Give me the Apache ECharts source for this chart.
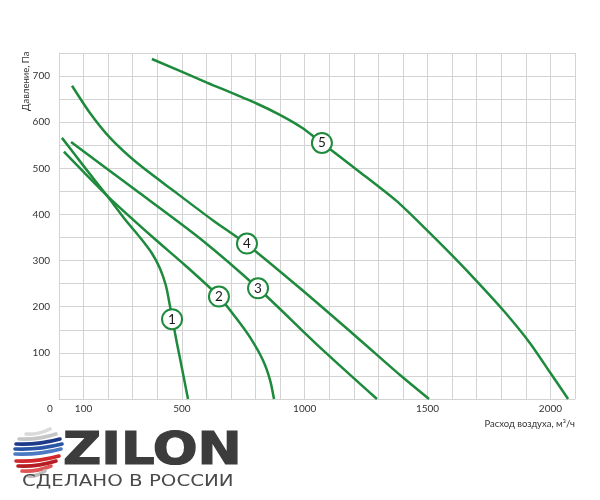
<!DOCTYPE html>
<html><head><meta charset="utf-8">
<script src="https://cdn.jsdelivr.net/npm/echarts@6/dist/echarts.min.js"></script>
<style>html,body{margin:0;padding:0;background:#fff}#c{width:600px;height:500px}</style>
</head><body><div id="c"></div>
<script>
// ---- data ----
const curveNames = ['1', '2', '3', '4', '5'];
const curve1 = [[12,566],[106,501],[195,441],[269,389],[330,350],[378,316],[411,283],[435,246],[448,212],[460,177],[480,121],[501,65],[525,0]];
const curve2 = [[20,536],[195,441],[383,350],[513,290],[651,222],[720,176],[777,134],[830,84],[859,41],[875,0]];
const curve3 = [[49,557],[309,454],[574,348],[810,240],[1062,112],[1294,0]];
const curve4 = [[53,679],[126,620],[208,566],[317,512],[472,449],[627,387],[765,335],[981,240],[1225,128],[1388,52],[1506,0]];
const curve5 = [[378,737],[602,686],[806,640],[899,616],[989,588],[1070,555],[1217,495],[1372,430],[1490,370],[1604,309],[1713,248],[1815,188],[1917,121],[1998,58],[2072,0]];
const markerPos = [[460,173],[651,222],[810,240],[765,337],[1070,555]];
const xLabelValues = [0, 100, 500, 1000, 1500, 2000];
const yLabelValues = [100, 200, 300, 400, 500, 600, 700];
const xAxisName = 'Расход воздуха, м³/ч';
const yAxisName = 'Давление, Па';
const brandName = 'ZILON';
const brandSlogan = 'СДЕЛАНО В РОССИИ';

const curves = [curve1, curve2, curve3, curve4, curve5];
const GREEN = '#1e8a3c';
const GRIDC = '#d3d3d3';

const series = curves.map((c, i) => ({
  type: 'line',
  name: curveNames[i],
  data: c,
  symbol: 'none',
  smooth: 0.25,
  lineStyle: { color: GREEN, width: 2.5 },
  z: 2,
  markPoint: {
    symbol: 'circle',
    symbolSize: 20,
    itemStyle: { color: '#fff', borderColor: GREEN, borderWidth: 2 },
    label: { show: true, formatter: curveNames[i], color: '#1a1a1a', fontSize: 13.5, fontFamily: 'Lato' },
    data: [{ coord: markerPos[i] }],
    z: 5
  }
}));

// globe bands for the logo
const bands = [
  [432, '#dadada', 26, 50], [437, '#c6c6c6', 19, 56],
  [442, '#1d3a8a', 16, 60], [447, '#2a55a6', 15, 62], [452, '#4b79c3', 15, 61],
  [459, '#d2282b', 16, 59], [464, '#b51d22', 18, 56], [469, '#df5555', 22, 51],
  [474, '#bdbdbd', 28, 45]
];
const globe = bands.map(b => ({
  type: 'bezierCurve',
  shape: { x1: b[2], y1: b[0] + 2, cpx1: (b[2] + b[3]) / 2, cpy1: b[0] + 3, x2: b[3], y2: b[0] - 3 },
  style: { stroke: b[1], lineWidth: 3.6, fill: null, lineCap: 'round' }
}));

const chart = echarts.init(document.getElementById('c'), null, { renderer: 'canvas' });
chart.setOption({
  animation: false,
  backgroundColor: '#fff',
  textStyle: { fontFamily: 'Lato' },
  grid: { left: 59, right: 25, top: 53, bottom: 101, containLabel: false },
  xAxis: {
    type: 'value', min: 0, max: 2100, interval: 100,
    name: xAxisName, nameLocation: 'end', nameGap: 0, nameMoveOverlap: false,
    nameTextStyle: { align: 'right', verticalAlign: 'top', padding: [20, 0, 0, 0], fontSize: 9.5, color: '#333', fontFamily: 'Lato' },
    axisLine: { show: true, lineStyle: { color: GRIDC, width: 1 } },
    axisTick: { show: false },
    splitLine: { show: true, lineStyle: { color: GRIDC, width: 1 } },
    axisLabel: {
      show: true, margin: 5, fontSize: 10, color: '#333', showMinLabel: true, showMaxLabel: false,
      hideOverlap: false,
      formatter: v => v === 0 ? '{z|0}' : (xLabelValues.includes(v) ? String(v) : ''),
      rich: { z: { padding: [0, 18, 0, 0], fontSize: 10, color: '#333' } }
    }
  },
  yAxis: {
    type: 'value', min: 0, max: 750, interval: 50,
    name: yAxisName, nameLocation: 'end', nameRotate: 90, nameGap: -58, nameMoveOverlap: false,
    nameTextStyle: { align: 'left', verticalAlign: 'bottom', padding: [0, 0, 28, 0], fontSize: 9.5, color: '#333', fontFamily: 'Lato' },
    axisLine: { show: true, lineStyle: { color: GRIDC, width: 1 } },
    axisTick: { show: false },
    splitLine: { show: true, lineStyle: { color: GRIDC, width: 1 } },
    axisLabel: {
      margin: 9, fontSize: 10, color: '#333', hideOverlap: false,
      formatter: v => yLabelValues.includes(v) ? String(v) : ''
    }
  },
  series: series,
  graphic: [
    { type: 'group', children: globe },
    {
      type: 'text', x: 63, y: 453, scaleX: 1.2, originX: 0,
      style: { text: brandName, fontSize: 44, fontWeight: 'bold', fontFamily: 'DejaVu Sans', fill: '#3c3c3c', stroke: '#3c3c3c', lineWidth: 1.2, align: 'left', verticalAlign: 'middle' }
    },
    {
      type: 'text', x: 22, y: 482, scaleX: 1.2, originX: 0,
      style: { text: brandSlogan, fontSize: 16.5, fontFamily: 'DejaVu Sans', fill: '#4a4a4a', align: 'left', verticalAlign: 'middle' }
    }
  ]
});
</script>
</body></html>
